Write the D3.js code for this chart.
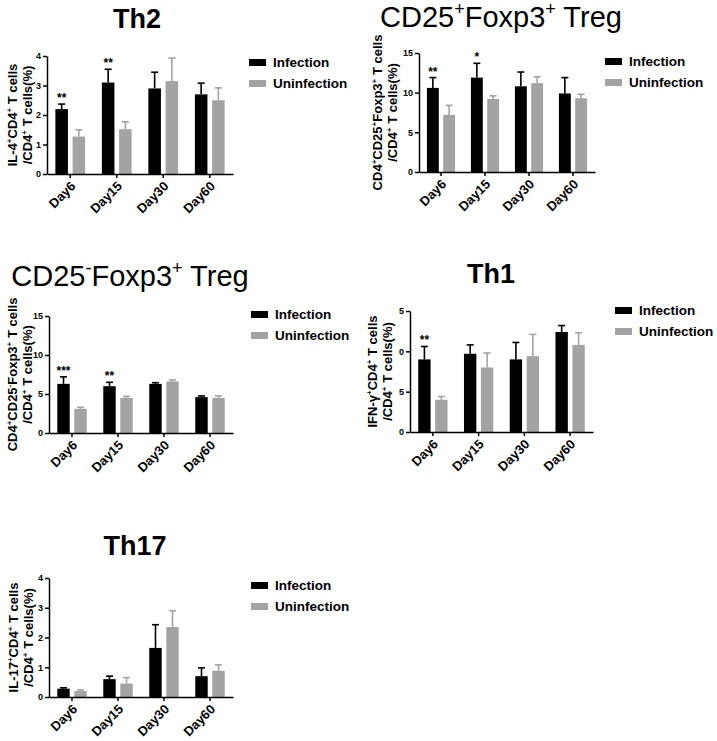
<!DOCTYPE html>
<html><head><meta charset="utf-8">
<script src="https://cdn.jsdelivr.net/npm/d3@7"></script>
<style>body{margin:0;background:#fff} svg{display:block} text{font-family:"Liberation Sans",Arial,Helvetica,sans-serif}</style>
</head><body><svg id="c" width="717" height="741"></svg>
<script>
// ---------- data ----------
const categories = ["Day6", "Day15", "Day30", "Day60"];
const seriesNames = ["Infection", "Uninfection"];

const th2Inf = [2.2, 3.1, 2.9, 2.7];
const th2InfErr = [0.17, 0.45, 0.55, 0.38];
const th2Un = [1.27, 1.52, 3.15, 2.5];
const th2UnErr = [0.23, 0.25, 0.78, 0.42];
const th2Stars = ["**", "**", "", ""];

const tregPosInf = [10.6, 11.9, 10.8, 9.9];
const tregPosInfErr = [1.3, 1.8, 1.8, 2.0];
const tregPosUn = [7.2, 9.2, 11.2, 9.3];
const tregPosUnErr = [1.2, 0.4, 0.8, 0.5];
const tregPosStars = ["**", "*", "", ""];

const tregNegInf = [6.3, 6.0, 6.3, 4.6];
const tregNegInfErr = [0.9, 0.5, 0.15, 0.15];
const tregNegUn = [3.1, 4.5, 6.6, 4.5];
const tregNegUnErr = [0.2, 0.2, 0.2, 0.25];
const tregNegStars = ["***", "**", "", ""];

const th1Inf = [9.0, 9.7, 9.0, 12.4];
const th1InfErr = [1.6, 1.1, 2.1, 0.8];
const th1Un = [4.0, 8.0, 9.4, 10.8];
const th1UnErr = [0.4, 1.8, 2.7, 1.5];
const th1Stars = ["**", "", "", ""];

const th17Inf = [0.28, 0.6, 1.65, 0.7];
const th17InfErr = [0.03, 0.1, 0.78, 0.28];
const th17Un = [0.2, 0.45, 2.35, 0.88];
const th17UnErr = [0.04, 0.2, 0.55, 0.2];
const th17Stars = ["", "", "", ""];

const ticks4 = [0, 1, 2, 3, 4];
const ticks4Labels = ["0", "1", "2", "3", "4"];
const ticks15 = [0, 5, 10, 15];
const ticks15Labels = ["0", "5", "10", "15"];
const th1TickLabels = ["0", "5", "0", "5"];

const titles = ["Th2", "CD25{+}Foxp3{+} Treg", "CD25{-}Foxp3{+} Treg", "Th1", "Th17"];
const yLabels1 = ["IL-4{+}CD4{+} T cells", "CD4{+}CD25{+}Foxp3{+} T cells", "CD4{+}CD25{-}Foxp3{+} T cells", "IFN-γ{+}CD4{+}  T cells", "IL-17{+}CD4{+} T cells"];
const yLabel2 = "/CD4{+} T cells(%)";

// ---------- layout ----------
const colors = ["#000000", "#a3a3a3"];
const panels = [
  {inf: th2Inf, infE: th2InfErr, un: th2Un, unE: th2UnErr, stars: th2Stars, ymax: 4, ticks: ticks4, tl: ticks4Labels,
   x0: 47, x1: 233, y0: 174, yt: 56, titleX: 137, titleY: 28, titleBold: true, lx: 249, ly: 59, lab1: 17, lab2: 32},
  {inf: tregPosInf, infE: tregPosInfErr, un: tregPosUn, unE: tregPosUnErr, stars: tregPosStars, ymax: 15, ticks: ticks15, tl: ticks15Labels,
   x0: 419, x1: 595, y0: 172, yt: 53, titleX: 501, titleY: 27, titleBold: false, lx: 605, ly: 58, lab1: 382, lab2: 397},
  {inf: tregNegInf, infE: tregNegInfErr, un: tregNegUn, unE: tregNegUnErr, stars: tregNegStars, ymax: 15, ticks: ticks15, tl: ticks15Labels,
   x0: 49, x1: 233, y0: 433, yt: 316, titleX: 130, titleY: 286, titleBold: false, lx: 251, ly: 311, lab1: 17, lab2: 32},
  {inf: th1Inf, infE: th1InfErr, un: th1Un, unE: th1UnErr, stars: th1Stars, ymax: 15, ticks: ticks15, tl: th1TickLabels,
   x0: 410, x1: 593, y0: 432, yt: 311, titleX: 491, titleY: 283, titleBold: true, lx: 615, ly: 307, lab1: 377, lab2: 392},
  {inf: th17Inf, infE: th17InfErr, un: th17Un, unE: th17UnErr, stars: th17Stars, ymax: 4, ticks: ticks4, tl: ticks4Labels,
   x0: 49, x1: 233, y0: 697, yt: 578, titleX: 135, titleY: 555, titleBold: true, lx: 251, ly: 582, lab1: 18, lab2: 33}
];

const svg = d3.select("#c");

function rich(sel, str, size) {
  const parts = str.split(/(\{[^}]*\})/).filter(s => s.length);
  let cur = 0;
  parts.forEach(p => {
    const sup = p[0] === "{";
    const target = sup ? -size * 0.42 : 0;
    sel.append("tspan").text(sup ? p.slice(1, -1) : p)
      .attr("font-size", sup ? size * 0.62 : size)
      .attr("dy", target - cur);
    cur = target;
  });
}

panels.forEach((p, i) => {
  const g = svg.append("g");
  const y = d3.scaleLinear().domain([0, p.ymax]).range([p.y0, p.yt]);
  const x = d3.scaleBand().domain(categories).range([p.x0, p.x1]).padding(0);
  const step = x.bandwidth();
  const bw = step * 0.27, off = step * 0.185;

  // title
  const tt = g.append("text").attr("x", p.titleX).attr("y", p.titleY).attr("text-anchor", "middle")
    .attr("font-weight", p.titleBold ? "bold" : "normal").attr("font-size", p.titleBold ? 27 : 29);
  rich(tt, titles[i], p.titleBold ? 27 : 29);

  // bars
  const groups = [[p.inf, p.infE], [p.un, p.unE]];
  groups.forEach(([vals, errs], s) => {
    const cx = d => x(d) + step / 2 + (s === 0 ? -off : off);
    g.selectAll(null).data(categories).enter().append("line")
      .attr("x1", d => cx(d)).attr("x2", d => cx(d))
      .attr("y1", (d, k) => y(vals[k])).attr("y2", (d, k) => y(vals[k] + errs[k]))
      .attr("stroke", colors[s]).attr("stroke-width", 1.6);
    g.selectAll(null).data(categories).enter().append("line")
      .attr("x1", d => cx(d) - 3.5).attr("x2", d => cx(d) + 3.5)
      .attr("y1", (d, k) => y(vals[k] + errs[k])).attr("y2", (d, k) => y(vals[k] + errs[k]))
      .attr("stroke", colors[s]).attr("stroke-width", 1.6);
    g.selectAll(null).data(categories).enter().append("rect")
      .attr("x", d => cx(d) - bw / 2).attr("width", bw)
      .attr("y", (d, k) => y(vals[k])).attr("height", (d, k) => y(0) - y(vals[k]))
      .attr("fill", colors[s]);
  });

  // stars
  g.selectAll(null).data(categories).enter().append("text")
    .attr("x", d => x(d) + step / 2 - off)
    .attr("y", (d, k) => y(p.inf[k] + p.infE[k]) - 2)
    .attr("text-anchor", "middle").attr("font-size", 12).attr("font-weight", "bold")
    .text((d, k) => p.stars[k]);

  // y axis
  const ya = g.append("g").attr("transform", `translate(${p.x0},0)`)
    .call(d3.axisLeft(y).tickValues(p.ticks).tickSize(4).tickSizeOuter(0).tickFormat((d, k) => p.tl[k]));
  ya.selectAll("path, line").attr("stroke", "#000").attr("stroke-width", 1.5);
  ya.selectAll("text").attr("font-size", 9).attr("font-weight", "bold").attr("font-family", "Liberation Sans, Arial, sans-serif").attr("fill", "#000").attr("x", -6);

  // x axis
  const xa = g.append("g").attr("transform", `translate(0,${p.y0})`)
    .call(d3.axisBottom(x).tickSize(4).tickSizeOuter(0));
  xa.selectAll("path, line").attr("stroke", "#000").attr("stroke-width", 1.5);
  xa.selectAll("text").attr("font-size", 13).attr("font-weight", "bold").attr("font-family", "Liberation Sans, Arial, sans-serif")
    .attr("fill", "#000").attr("text-anchor", "end").attr("dy", null).attr("y", null)
    .attr("transform", "translate(6,13) rotate(-45)");

  // y labels
  const ym = (p.y0 + p.yt) / 2;
  const l1 = g.append("text").attr("transform", `translate(${p.lab1},${ym}) rotate(-90)`)
    .attr("text-anchor", "middle").attr("font-weight", "bold").attr("font-size", 13);
  rich(l1, yLabels1[i], 13);
  const l2 = g.append("text").attr("transform", `translate(${p.lab2},${ym}) rotate(-90)`)
    .attr("text-anchor", "middle").attr("font-weight", "bold").attr("font-size", 13);
  rich(l2, yLabel2, 13);

  // legend
  seriesNames.forEach((n, s) => {
    g.append("rect").attr("x", p.lx).attr("y", p.ly + s * 21).attr("width", 17).attr("height", 7).attr("fill", colors[s]);
    g.append("text").attr("x", p.lx + 24).attr("y", p.ly + s * 21 + 8).attr("font-size", 13.5).attr("font-weight", "bold").text(n);
  });
});
</script>
</body></html>
